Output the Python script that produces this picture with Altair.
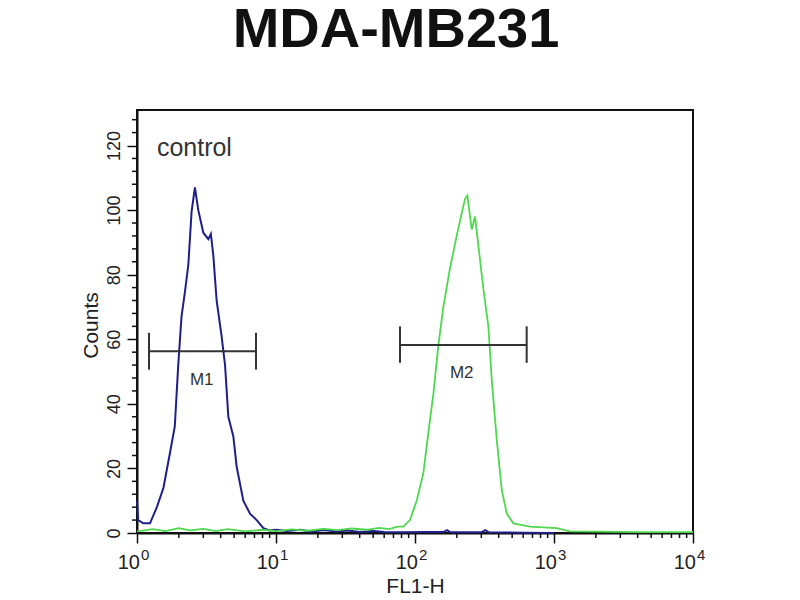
import altair as alt
import pandas as pd

# ---- data ----
blue_x = [1.0, 1.02, 1.11, 1.24, 1.39, 1.55, 1.73, 1.87, 1.98, 2.09, 2.21, 2.34, 2.47, 2.61,
          2.76, 3.00, 3.26, 3.40, 3.54, 3.74, 4.06, 4.30, 4.54, 4.93, 5.21, 5.82, 6.50, 7.26,
          8.11, 9.0, 10, 12, 15, 18, 22, 27, 33, 40, 50, 60, 80, 120, 160, 170, 180, 300,
          320, 340, 600, 1000]
blue_y = [10, 4, 3, 3, 8, 14, 25, 33, 52, 67, 74.5, 83, 99.5, 107,
          100, 93, 91, 92.6, 86, 72, 61, 52, 36, 30, 20.6, 10, 6, 4,
          1.5, 0.8, 1.0, 0.6, 1.0, 0.4, 0.9, 0.5, 0.8, 0.3, 0.6, 0.3, 0.2, 0.3, 0.3, 0.9, 0.2, 0.2,
          0.9, 0.2, 0.1, 0.0]

green_x = [1.0, 1.3, 1.6, 2.0, 2.4, 3.0, 3.7, 4.5, 6.0, 8.0, 10, 13, 17, 22, 28, 35, 45, 55,
           65, 75, 82.4, 92.0, 102.8, 114.8, 124.7, 135.5, 147.2, 159.9, 178.6, 199.5, 216.7,
           229.1, 238.2, 248.9, 255.9, 270.4, 285.8, 310.5, 337.2, 356.4, 387.3, 420.7, 457.1,
           510.5, 671.5, 1045, 1303, 2000, 4000, 10000]
green_y = [0.5, 1.2, 0.6, 1.5, 0.8, 1.3, 0.6, 1.2, 0.5, 1.0, 0.6, 1.1, 0.7, 1.3, 0.9, 1.4, 1.0, 1.6,
           1.2, 2.0, 2.0, 4.0, 10.0, 18.5, 31.0, 43.0, 58.0, 70.0, 82.0, 92.0, 99.0,
           103.5, 104.5, 98.0, 94.0, 98.0, 89.0, 75.5, 64.0, 47.5, 29.0, 13.4, 6.0,
           3.0, 2.0, 1.5, 0.5, 0.4, 0.3, 0.3]

marker_names = ["M1", "M2"]
marker_x1 = [1.22, 78]
marker_x2 = [7.18, 636]
marker_y = [56.3, 58.2]
marker_lo = [50.6, 52.7]
marker_hi = [62.0, 64.0]
marker_label_x = [2.92, 217]
marker_label_y = [47.5, 49.7]

decades = [1, 10, 100, 1000, 10000]
decade_exp = ["0", "1", "2", "3", "4"]
x_minor = [m * d for d in [1, 10, 100, 1000] for m in range(2, 10)]
y_major = [0, 20, 40, 60, 80, 100, 120]
y_minor = [v for v in range(4, 131, 4) if v % 20 != 0]

annot_text = ["control"]
annot_x = [1.39]
annot_y = [116.7]

# ---- tables ----
df_blue = pd.DataFrame({"x": blue_x, "y": blue_y})
df_green = pd.DataFrame({"x": green_x, "y": green_y})
df_mark = pd.DataFrame({"name": marker_names, "x": marker_x1, "x2": marker_x2, "y": marker_y,
                        "lx": marker_label_x, "ly": marker_label_y})
df_caps = pd.DataFrame({
    "x": marker_x1 + marker_x2,
    "y": marker_lo + marker_lo,
    "y2": marker_hi + marker_hi,
})
df_dec = pd.DataFrame({"x": decades, "e": decade_exp, "b": ["10"] * len(decades)})
df_xminor = pd.DataFrame({"x": x_minor})
df_yminor = pd.DataFrame({"y": y_minor})
df_annot = pd.DataFrame({"t": annot_text, "x": annot_x, "y": annot_y})

W, H = 556, 423
REG = "Liberation Sans, Arial, sans-serif"

xs = alt.Scale(type="log", domain=[1, 10000], nice=False)
ys = alt.Scale(domain=[0, 131], nice=False, zero=True)

x_axis = alt.Axis(values=decades, labels=False, tickSize=10, tickWidth=1.5, tickColor="#111",
                  domainColor="#111", domainWidth=2, grid=False,
                  title="FL1-H", titleX=278, titleY=59, titleAlign="center",
                  titleBaseline="alphabetic", titleFont=REG, titleFontSize=21,
                  titleFontWeight="normal", titleColor="#222")
y_axis = alt.Axis(values=y_major, tickSize=10, tickWidth=1.5, tickColor="#111",
                  domainColor="#111", domainWidth=2, grid=False,
                  labelAngle=270, labelAlign="center", labelBaseline="alphabetic",
                  labelPadding=8, labelFontSize=18, labelFont=REG, labelColor="#222",
                  title="Counts", titleAngle=270, titleX=-40, titleY=215, titleAlign="center",
                  titleBaseline="alphabetic", titleFont=REG, titleFontSize=21,
                  titleFontWeight="normal", titleColor="#222")


def X(field):
    return alt.X(field, scale=xs, axis=x_axis)


def Y(field):
    return alt.Y(field, scale=ys, axis=y_axis)


blue = alt.Chart(df_blue).mark_line(color="#1f1f8a", strokeWidth=2).encode(
    x=X("x:Q"), y=Y("y:Q"),
)
green = alt.Chart(df_green).mark_line(color="#4ed84e", strokeWidth=1.8).encode(
    x=X("x:Q"), y=Y("y:Q"),
)
bars = alt.Chart(df_mark).mark_rule(color="#333", strokeWidth=2).encode(
    x=X("x:Q"), x2="x2:Q", y=Y("y:Q"),
)
caps = alt.Chart(df_caps).mark_rule(color="#333", strokeWidth=2).encode(
    x=X("x:Q"), y=Y("y:Q"), y2="y2:Q",
)
mlabels = alt.Chart(df_mark).mark_text(font=REG, fontSize=17, color="#333",
                                       baseline="middle", align="center").encode(
    x=X("lx:Q"), y=Y("ly:Q"), text="name:N",
)
annot = alt.Chart(df_annot).mark_text(font=REG, fontSize=25, color="#333",
                                      align="left", baseline="alphabetic").encode(
    x=X("x:Q"), y=Y("y:Q"), text="t:N",
)
xminor = alt.Chart(df_xminor).mark_rule(color="#111", strokeWidth=1.5).encode(
    x=X("x:Q"), y=alt.value(H), y2=alt.value(H + 5),
)
yminor = alt.Chart(df_yminor).mark_rule(color="#111", strokeWidth=1.5).encode(
    y=Y("y:Q"), x=alt.value(0), x2=alt.value(-5),
)
xbase = alt.Chart(df_dec).mark_text(font=REG, fontSize=20, color="#222",
                                    align="right", baseline="alphabetic", dx=3).encode(
    x=X("x:Q"), y=alt.value(H + 36), text="b:N",
)
xexp = alt.Chart(df_dec).mark_text(font=REG, fontSize=15, color="#222",
                                   align="left", baseline="alphabetic", dx=4).encode(
    x=X("x:Q"), y=alt.value(H + 27), text="e:N",
)

chart = alt.layer(blue, green, bars, caps, mlabels, annot, xminor, yminor, xbase, xexp).properties(
    width=W, height=H,
    background="white",
    title=alt.TitleParams("MDA-MB231", fontSize=56, font=REG, fontWeight="bold", color="#111",
                          anchor="middle", frame="group", offset=51, dx=-19),
    autosize=alt.AutoSizeParams(type="none"),
    padding={"left": 129, "top": 102, "right": 90, "bottom": 65},
).configure_view(stroke="#111", strokeWidth=2)

chart.save("out.html", embed_options={"renderer": "svg", "actions": False})
